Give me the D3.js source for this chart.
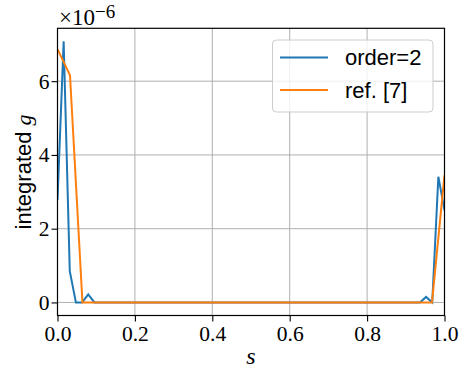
<!DOCTYPE html>
<html><head><meta charset="utf-8">
<script src="https://cdn.jsdelivr.net/npm/d3@7"></script>
<style>body{margin:0;background:#fff}svg{display:block}</style>
</head><body>
<script>
// values in units of 1e-6
const sOrder2 = [0,0.0159,0.0317,0.0476,0.0635,0.0794,0.0952,0.1111,0.1270,0.1429,0.1587,0.1746,0.1905,0.2063,0.2222,0.2381,0.2540,0.2698,0.2857,0.3016,0.3175,0.3333,0.3492,0.3651,0.3810,0.3968,0.4127,0.4286,0.4444,0.4603,0.4762,0.4921,0.5079,0.5238,0.5397,0.5556,0.5714,0.5873,0.6032,0.6190,0.6349,0.6508,0.6667,0.6825,0.6984,0.7143,0.7302,0.7460,0.7619,0.7778,0.7937,0.8095,0.8254,0.8413,0.8571,0.8730,0.8889,0.9048,0.9206,0.9365,0.9524,0.9683,0.9841,1.0];
const gOrder2 = [2.78,7.08,0.85,0,0,0.22,0,0,0,0,0,0,0,0,0,0,0,0,0,0,0,0,0,0,0,0,0,0,0,0,0,0,0,0,0,0,0,0,0,0,0,0,0,0,0,0,0,0,0,0,0,0,0,0,0,0,0,0,0,0,0.15,0,3.41,2.5];
const sRef = [0,0.0323,0.0645,0.0968,0.1290,0.1613,0.1935,0.2258,0.2581,0.2903,0.3226,0.3548,0.3871,0.4194,0.4516,0.4839,0.5161,0.5484,0.5806,0.6129,0.6452,0.6774,0.7097,0.7419,0.7742,0.8065,0.8387,0.8710,0.9032,0.9355,0.9677,1.0];
const gRef = [6.87,6.16,0,0,0,0,0,0,0,0,0,0,0,0,0,0,0,0,0,0,0,0,0,0,0,0,0,0,0,0,0,3.45];
const xTicks = [0,0.2,0.4,0.6,0.8,1.0];
const yTicks = [0,2,4,6];
const seriesNames = ["order=2","ref. [7]"];
const colors = ["#1f77b4","#ff7f0e"];

const W=463,H=369;
const m={l:57.5,r:444.5,t:28.3,b:315.5};
const svg=d3.select("body").append("svg").attr("width",W).attr("height",H);
const x=d3.scaleLinear().domain([0,1]).range([m.l,m.r]);
const yMax=d3.max([...gOrder2,...gRef]);
const pad=0.05*yMax;
const y=d3.scaleLinear().domain([-pad,yMax+pad]).range([m.b,m.t]);
const serif="'Liberation Serif','DejaVu Serif',serif";
const sans="'Liberation Sans',Arial,sans-serif";

// grid
const g=svg.append("g");
g.selectAll(".gx").data(xTicks).join("line").attr("x1",d=>x(d)).attr("x2",d=>x(d)).attr("y1",m.t).attr("y2",m.b).attr("stroke","#b0b0b0").attr("stroke-width",1);
g.selectAll(".gy").data(yTicks).join("line").attr("x1",m.l).attr("x2",m.r).attr("y1",d=>y(d)).attr("y2",d=>y(d)).attr("stroke","#b0b0b0").attr("stroke-width",1);

svg.append("clipPath").attr("id","clip").append("rect").attr("x",m.l).attr("y",m.t).attr("width",m.r-m.l).attr("height",m.b-m.t);
const line=d3.line().x(d=>x(d[0])).y(d=>y(d[1]));
const plot=svg.append("g").attr("clip-path","url(#clip)");
plot.append("path").datum(d3.zip(sOrder2,gOrder2)).attr("d",line).attr("fill","none").attr("stroke",colors[0]).attr("stroke-width",2);
plot.append("path").datum(d3.zip(sRef,gRef)).attr("d",line).attr("fill","none").attr("stroke",colors[1]).attr("stroke-width",2);

// axes
const xa=svg.append("g").attr("transform",`translate(0,${m.b})`).call(d3.axisBottom(x).tickValues(xTicks).tickFormat(d3.format(".1f")).tickSize(6).tickPadding(4));
const ya=svg.append("g").attr("transform",`translate(${m.l},0)`).call(d3.axisLeft(y).tickValues(yTicks).tickFormat(d3.format("d")).tickSize(6).tickPadding(2));
[xa,ya].forEach(a=>{a.select(".domain").remove();a.selectAll("text").attr("font-family",serif).attr("font-size",21.5).attr("fill","#000");a.selectAll("line").attr("stroke","#000").attr("stroke-width",1.1);});
svg.append("rect").attr("x",m.l).attr("y",m.t).attr("width",m.r-m.l).attr("height",m.b-m.t).attr("fill","none").attr("stroke","#000").attr("stroke-width",1.2);

// offset text
const off=svg.append("text").attr("x",59).attr("y",25).attr("font-family",serif).attr("font-size",23);
off.append("tspan").text("×10");
off.append("tspan").attr("dy",-7.5).attr("font-size",19).text("−6");

// labels
svg.append("text").attr("transform",`translate(31,${(m.t+m.b)/2}) rotate(-90)`).attr("text-anchor","middle").attr("font-family",sans).attr("font-size",22)
  .call(t=>{t.append("tspan").text("integrated ");t.append("tspan").attr("font-family",serif).attr("font-style","italic").text("g");});
svg.append("text").attr("x",251).attr("y",364).attr("text-anchor","middle").attr("font-family",serif).attr("font-style","italic").attr("font-size",24).text("s");

// legend
const lg=svg.append("g");
lg.append("rect").attr("x",272.5).attr("y",40).attr("width",160.5).attr("height",72).attr("rx",4).attr("fill","#fff").attr("fill-opacity",0.8).attr("stroke","#cccccc").attr("stroke-width",1);
seriesNames.forEach((n,i)=>{
  const yy=57.5+i*32.5;
  lg.append("line").attr("x1",280).attr("x2",328).attr("y1",yy).attr("y2",yy).attr("stroke",colors[i]).attr("stroke-width",2);
  lg.append("text").attr("x",345).attr("y",yy+7.5).attr("font-family",sans).attr("font-size",22).text(n);
});
</script>
</body></html>
